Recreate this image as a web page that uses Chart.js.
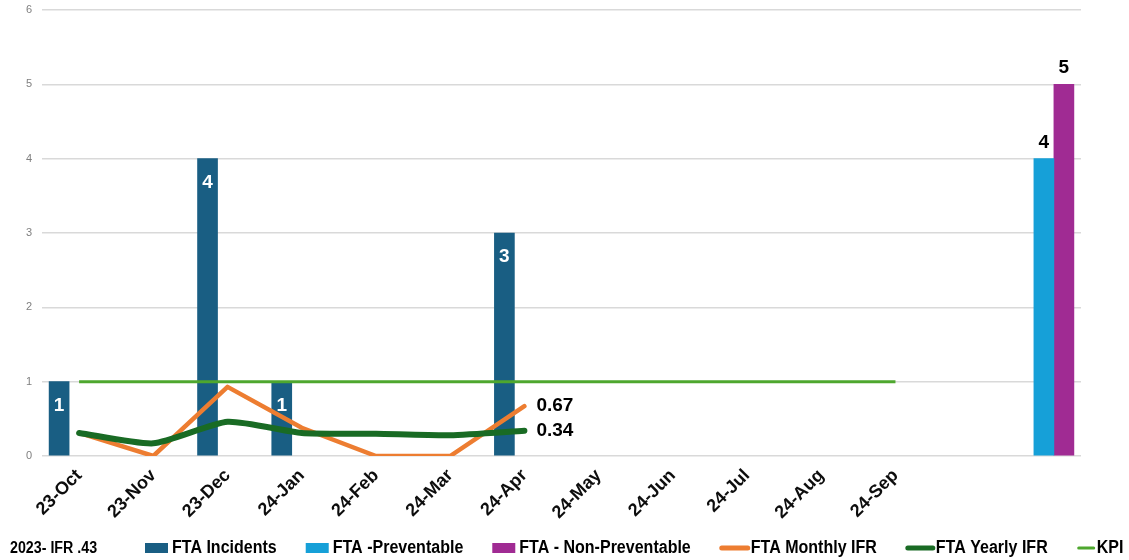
<!DOCTYPE html>
<html>
<head>
<meta charset="utf-8">
<script src="https://cdn.jsdelivr.net/npm/chart.js@4.4.1/dist/chart.umd.min.js"></script>
<style>
  html, body { margin: 0; padding: 0; background: #fff; }
  #wrap { width: 1129px; height: 560px; position: relative; }
</style>
</head>
<body>
<div id="wrap"><canvas id="myChart"></canvas></div>
<script>
// months, plus two blank slots for the preventable split
const months = ['23-Oct','23-Nov','23-Dec','24-Jan','24-Feb','24-Mar','24-Apr','24-May','24-Jun','24-Jul','24-Aug','24-Sep','',''];
const incidents      = [1, null, 4, 1, null, null, 3, null, null, null, null, null, null, null];
const preventable    = [null, null, null, null, null, null, null, null, null, null, null, null, null, 4];
const nonPreventable = [null, null, null, null, null, null, null, null, null, null, null, null, null, 5];
const monthlyIFR     = [0.31, 0, 0.93, 0.38, 0, 0, 0.67];
const yearlyIFR      = [0.31, 0.17, 0.46, 0.31, 0.30, 0.28, 0.34];
const kpi            = [1, 1, 1, 1, 1, 1, 1, 1, 1, 1, 1, 1];
const yTicks = [0, 1, 2, 3, 4, 5, 6];
const footNote = '2023- IFR .43';

const LABEL_FONT = 'bold 19px "Liberation Sans", Arial, sans-serif';

// value labels: inside the bar top, above the bar, or right of the last point
const valueLabels = {
  id: 'valueLabels',
  afterDatasetsDraw(chart) {
    const ctx = chart.ctx;
    ctx.save();
    ctx.font = LABEL_FONT;
    chart.data.datasets.forEach((ds, i) => {
      if (!ds.valueLabel) return;
      const meta = chart.getDatasetMeta(i);
      let last = -1;
      ds.data.forEach((v, j) => { if (v !== null) last = j; });
      meta.data.forEach((el, j) => {
        const v = ds.data[j];
        if (v === null || v === undefined) return;
        if (ds.valueLabel === 'inside') {
          ctx.fillStyle = '#fff';
          ctx.textAlign = 'center';
          ctx.textBaseline = 'middle';
          ctx.fillText(v, el.x, el.y + 24);
        } else if (ds.valueLabel === 'above') {
          ctx.fillStyle = '#000';
          ctx.textAlign = 'center';
          ctx.textBaseline = 'alphabetic';
          ctx.fillText(v, el.x, el.y - 11);
        } else if (ds.valueLabel === 'right' && j === last) {
          ctx.fillStyle = '#000';
          ctx.textAlign = 'left';
          ctx.textBaseline = 'middle';
          ctx.fillText(v.toFixed(2), el.x + 12, el.y);
        }
      });
    });
    ctx.restore();
  }
};

// narrow bold text: Arial metrics squeezed horizontally
function narrowText(ctx, text, x, y, size) {
  const k = 0.89;
  ctx.save();
  ctx.font = 'bold ' + size + 'px "Liberation Sans", Arial, sans-serif';
  ctx.translate(x, y);
  ctx.scale(k, 1);
  ctx.fillText(text, 0, 0);
  const w = ctx.measureText(text).width * k;
  ctx.restore();
  return w;
}

// legend row along the bottom, with the note at its left
const bottomLegend = {
  id: 'bottomLegend',
  afterDraw(chart) {
    const ctx = chart.ctx;
    const y = 548;
    ctx.save();
    ctx.textBaseline = 'middle';
    ctx.fillStyle = '#000';
    narrowText(ctx, footNote, 10, y + 1, 16);
    let x = 145;
    chart.data.datasets.forEach(ds => {
      if (ds.type === 'line') {
        ctx.strokeStyle = ds.borderColor;
        ctx.lineWidth = ds.legendWidth;
        ctx.lineCap = 'round';
        ctx.beginPath();
        ctx.moveTo(x + 2, y);
        ctx.lineTo(x + ds.legendLen - 2, y);
        ctx.stroke();
        x += ds.legendLen + 1;
      } else {
        ctx.fillStyle = ds.backgroundColor;
        ctx.fillRect(x, y - 5, 23, 10);
        x += 27;
      }
      ctx.fillStyle = '#000';
      x += narrowText(ctx, ds.label, x, y, 18) + 29;
    });
    ctx.restore();
  }
};

const config = {
  data: {
    labels: months,
    datasets: [
      { type: 'bar', label: 'FTA Incidents', data: incidents, backgroundColor: '#195e83', order: 4, valueLabel: 'inside' },
      { type: 'bar', label: 'FTA -Preventable', data: preventable, backgroundColor: '#16a0d8', order: 4, valueLabel: 'above' },
      { type: 'bar', label: 'FTA - Non-Preventable', data: nonPreventable, backgroundColor: '#a02b93', order: 4, valueLabel: 'above' },
      { type: 'line', label: 'FTA Monthly IFR', data: monthlyIFR, borderColor: '#ed7d31', borderWidth: 4.5, tension: 0,
        pointRadius: 0, borderCapStyle: 'round', borderJoinStyle: 'round', order: 3, valueLabel: 'right', legendLen: 30, legendWidth: 5 },
      { type: 'line', label: 'FTA Yearly IFR', data: yearlyIFR, borderColor: '#196b24', borderWidth: 6, tension: 0.2,
        pointRadius: 0, borderCapStyle: 'round', borderJoinStyle: 'round', order: 2, valueLabel: 'right', legendLen: 29, legendWidth: 5 },
      { type: 'line', label: 'KPI', data: kpi, borderColor: '#4ea72e', borderWidth: 3, tension: 0,
        pointRadius: 0, order: 1, legendLen: 19, legendWidth: 3 }
    ]
  },
  options: {
    responsive: true,
    maintainAspectRatio: false,
    animation: false,
    layout: { padding: { top: 10, right: 48, left: 0, bottom: 40 } },
    datasets: { bar: { barThickness: 20 } },
    plugins: { legend: { display: false }, tooltip: { enabled: false } },
    scales: {
      x: {
        grid: { display: false, drawTicks: false },
        border: { display: false },
        ticks: {
          color: '#0d0d0d',
          font: { family: '"Liberation Sans", Arial, sans-serif', size: 18, weight: 'bold' },
          maxRotation: 45, minRotation: 45, autoSkip: false, padding: 9
        },
        afterFit: s => { s.height = 64; }
      },
      y: {
        min: 0, max: 6,
        afterBuildTicks: s => { s.ticks = yTicks.map(v => ({ value: v })); },
        grid: { color: '#d9d9d9', lineWidth: 1.5, drawTicks: false },
        border: { display: false },
        ticks: { color: '#7f7f7f', font: { family: '"Liberation Sans", Arial, sans-serif', size: 11 }, padding: 10 },
        afterFit: s => { s.width = 42; s.paddingTop = 4; s.paddingBottom = 4; }
      }
    }
  },
  plugins: [valueLabels, bottomLegend]
};

const ctx = document.getElementById('myChart').getContext('2d');
const myChart = new Chart(ctx, config);
</script>
</body>
</html>
